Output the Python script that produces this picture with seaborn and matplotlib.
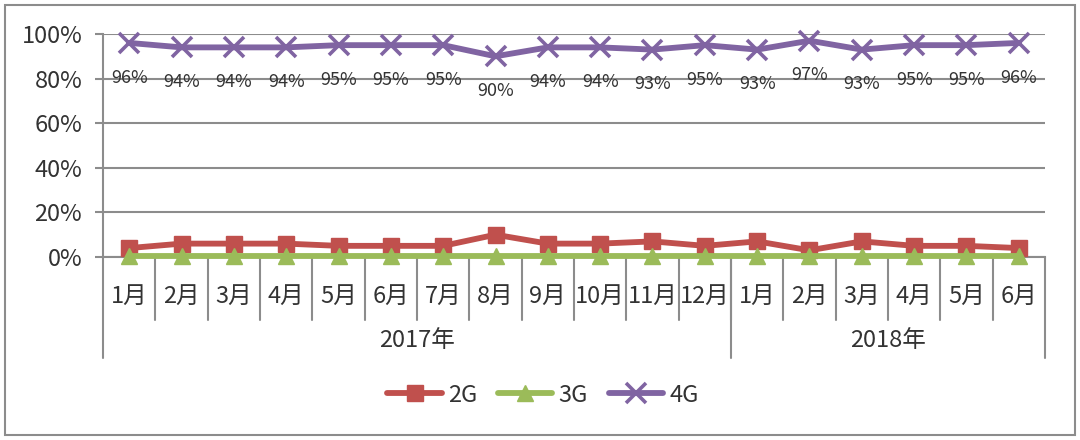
import numpy as np
import pandas as pd
import matplotlib
matplotlib.use("Agg")
import matplotlib.pyplot as plt
from matplotlib.patches import Rectangle
import seaborn as sns

months = ["1月", "2月", "3月", "4月", "5月", "6月", "7月", "8月", "9月", "10月", "11月", "12月",
          "1月", "2月", "3月", "4月", "5月", "6月"]
years = ["2017年", "2018年"]
year_counts = [12, 6]
g2 = [4, 6, 6, 6, 5, 5, 5, 10, 6, 6, 7, 5, 7, 3, 7, 5, 5, 4]
g3 = [0.3] * 18
g4 = [96, 94, 94, 94, 95, 95, 95, 90, 94, 94, 93, 95, 93, 97, 93, 95, 95, 96]
yticks = [0, 20, 40, 60, 80, 100]

sns.set_style("white")
plt.rcParams["font.family"] = ["Noto Sans CJK SC", "DejaVu Sans"]

fig = plt.figure(figsize=(10.8, 4.4), dpi=100)
W, H = 1080, 440
x0, x1, ytop, ybot = 103, 1045, 34, 257
ax = fig.add_axes([x0 / W, 1 - ybot / H, (x1 - x0) / W, (ybot - ytop) / H])

idx = np.arange(len(months))
df = pd.DataFrame({"idx": idx, "2G": g2, "3G": g3, "4G": g4})

GRAY = "#8c8c8c"
TXT = "#333333"
series = [
    ("2G", "#C0504D", "s", 11.5, 1.0),
    ("3G", "#9BBB59", "^", 12, 1.0),
    ("4G", "#8064A2", "x", 14, 2.6),
]
for name, col, mk, ms, mew in series:
    sns.lineplot(data=df, x="idx", y=name, ax=ax, color=col, marker=mk, markersize=ms,
                 markeredgecolor=col, markerfacecolor=col, markeredgewidth=mew,
                 linewidth=4.2, label=name, zorder=3, clip_on=False)

for i, v in enumerate(g4):
    ax.annotate(f"{v}%", (i, v), xytext=(0, -25), textcoords="offset points",
                ha="center", va="center", fontsize=13, color=TXT)

ax.set_xlim(-0.5, len(months) - 0.5)
ax.set_ylim(0, 100)
ax.set_yticks(yticks)
ax.set_yticklabels([f"{t}%" for t in yticks], fontsize=17, color=TXT)
ax.set_xticks([])
ax.set_xlabel("")
ax.set_ylabel("")
ax.yaxis.grid(True, color=GRAY, linewidth=1.5)
ax.set_axisbelow(True)
for s in ["top", "right"]:
    ax.spines[s].set_visible(False)
ax.spines["left"].set_color(GRAY)
ax.spines["left"].set_linewidth(1.5)
ax.spines["bottom"].set_color(GRAY)
ax.spines["bottom"].set_linewidth(1.5)
ax.tick_params(axis="y", which="major", direction="out", length=6, width=1.5, color=GRAY,
               left=True, pad=9)

trans = ax.get_xaxis_transform()
m_lo = -(320 - ybot) / (ybot - ytop)
y_lo = -(358 - ybot) / (ybot - ytop)
m_lab = -(296 - ybot) / (ybot - ytop)
y_lab = -(340 - ybot) / (ybot - ytop)

for i, m in enumerate(months):
    ax.text(i, m_lab, m, transform=trans, ha="center", va="center", fontsize=17, color=TXT)
for b in range(1, len(months)):
    ax.plot([b - 0.5, b - 0.5], [0, m_lo], transform=trans, color=GRAY, lw=1.5, clip_on=False)

start = 0
bounds = [-0.5]
for yname, cnt in zip(years, year_counts):
    ax.text(start + (cnt - 1) / 2, y_lab, yname, transform=trans, ha="center", va="center",
            fontsize=17, color=TXT)
    start += cnt
    bounds.append(start - 0.5)
for b in bounds:
    ax.plot([b, b], [0, y_lo], transform=trans, color=GRAY, lw=1.5, clip_on=False)

handles, labels = ax.get_legend_handles_labels()
ax.get_legend().remove()
fig.legend(handles, labels, loc="center", bbox_to_anchor=(543 / W, 1 - 395 / H), ncol=3,
           frameon=False, fontsize=17, handlelength=2.3, columnspacing=0.9, handletextpad=0.25,
           labelcolor=TXT)

fig.patches.append(Rectangle((5 / W, 5 / H), 1070 / W, 430 / H, transform=fig.transFigure,
                             fill=False, edgecolor=GRAY, linewidth=1.5))

fig.savefig("out.png", dpi=100)
